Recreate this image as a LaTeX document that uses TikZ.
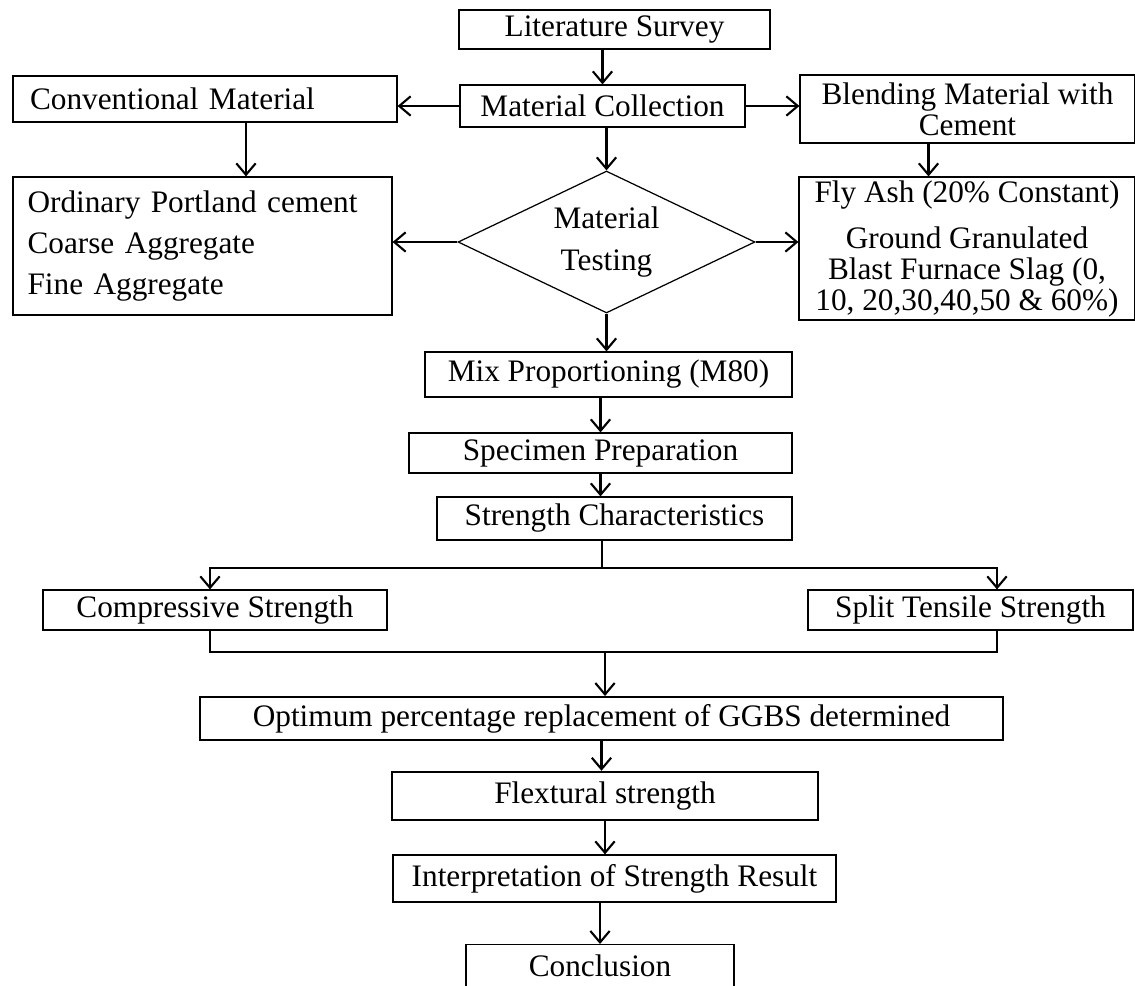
\documentclass[tikz,border=0pt]{standalone}
\usepackage{fontspec}
\setmainfont{Liberation Serif}
\usepackage{tikz}
\usetikzlibrary{shapes.geometric,arrows.meta}

\begin{document}
\begin{tikzpicture}[x=0.02cm, y=-0.02cm]
        \tikzstyle{every node} = [font=\fontsize{17.8}{17.5}\selectfont]
        \tikzstyle{box} = [draw, line width=0.7pt, inner sep=0pt, align=center]
        \tikzstyle{decision} = [draw, diamond, aspect=2.09, line width=0.7pt, inner sep=0pt, align=center]
        \tikzstyle{arr} = [line width=1.2pt, -{Straight Barb[length=6.5pt,width=11pt]}]
        \tikzstyle{link} = [line width=0.8pt]
        \useasboundingbox (0,0) rectangle (1135,985);
        \clip (0,0) rectangle (1135,985);
        % top row
        \node[box, minimum width=6.22cm, minimum height=0.78cm] (lit) at (614.5,29.5) {Literature Survey};
        \node[box, minimum width=5.7cm, minimum height=0.84cm] (coll) at (602.5,106) {Material Collection};
        \node[box, minimum height=0.92cm, text width=7.0cm, inner xsep=0.34cm, align=left] (conv) at (205,99) {Conventional Material};
        \node[box, minimum width=6.7cm, minimum height=1.36cm] (blend) at (967.5,109) {Blending Material with\\ Cement};
        % materials
        \node[decision, minimum width=5.94cm, minimum height=2.84cm] (test) at (606.5,242) {Material\\[6pt] Testing};
        \node[box, minimum height=2.76cm, text width=7.0cm, inner xsep=0.29cm, align=left] (ingr) at (202.5,246)
            {Ordinary Portland cement\\[6pt] Coarse Aggregate\\[6pt] Fine Aggregate\\[8pt]};
        \node[box, minimum width=6.72cm, minimum height=2.86cm] (fly) at (967,248.5)
            {Fly Ash (20\% Constant)\\[9pt] Ground Granulated\\ Blast Furnace Slag (0,\\ 10, 20,30,40,50 \& 60\%)};
        % middle column
        \node[box, minimum width=7.34cm, minimum height=0.9cm] (mix) at (608.5,374.5) {Mix Proportioning (M80)};
        \node[box, minimum width=7.66cm, minimum height=0.8cm] (spec) at (600.5,453) {Specimen Preparation};
        \node[box, minimum width=7.1cm, minimum height=0.86cm] (char) at (614.5,518.5) {Strength Characteristics};
        \node[box, minimum width=6.88cm, minimum height=0.8cm] (comp) at (215,610) {Compressive Strength};
        \node[box, minimum width=6.5cm, minimum height=0.8cm] (split) at (970.5,610) {Split Tensile Strength};
        \node[box, line width=1.1pt, minimum width=16.06cm, minimum height=0.86cm] (opt) at (601.5,718.5) {Optimum percentage replacement of GGBS determined};
        \node[box, line width=1.4pt, minimum width=8.52cm, minimum height=0.96cm] (flex) at (605,796) {Flextural strength};
        \node[box, minimum width=8.86cm, minimum height=0.94cm] (interp) at (614.5,878.5) {Interpretation of Strength Result};
        \node[box, anchor=north, minimum width=5.36cm, text depth=1.2cm, inner ysep=0.2cm] (concl) at (600,944) {Conclusion};
        \coordinate (fork) at (602,568);
        \coordinate (join) at (605,652);

        % connectors
        \draw[arr] (coll.north |- lit.south) -- (coll.north);
        \draw[arr] (coll.west) -- (coll.west -| conv.east);
        \draw[arr] (coll.east) -- (coll.east -| blend.west);
        \draw[arr] ([xshift=0.82cm]conv.south) -- ([xshift=0.82cm]conv.south |- ingr.north);
        \draw[arr] ([xshift=-0.78cm]blend.south) -- ([xshift=-0.78cm]blend.south |- fly.north);
        \draw[arr] (test.north |- coll.south) -- (test.north);
        \draw[arr] (test.west) -- (test.west -| ingr.east);
        \draw[arr] (test.east) -- (test.east -| fly.west);
        \draw[arr] (test.south) -- (test.south |- mix.north);
        \draw[arr] (spec.north |- mix.south) -- (spec.north);
        \draw[arr] (spec.south) -- (spec.south |- char.north);
        \draw[link] (fork |- char.south) -- (fork);
        \draw[arr] (fork) -| ([xshift=-0.1cm]comp.north);
        \draw[arr] (fork) -| ([xshift=0.53cm]split.north);
        \draw[link] ([xshift=-0.1cm]comp.south) |- (join) -| ([xshift=0.53cm]split.south);
        \draw[arr] (join) -- (join |- opt.north);
        \draw[arr] (opt.south) -- (opt.south |- flex.north);
        \draw[arr] (flex.south) -- (flex.south |- interp.north);
        \draw[arr] (concl.north |- interp.south) -- (concl.north);
\end{tikzpicture}
\end{document}
